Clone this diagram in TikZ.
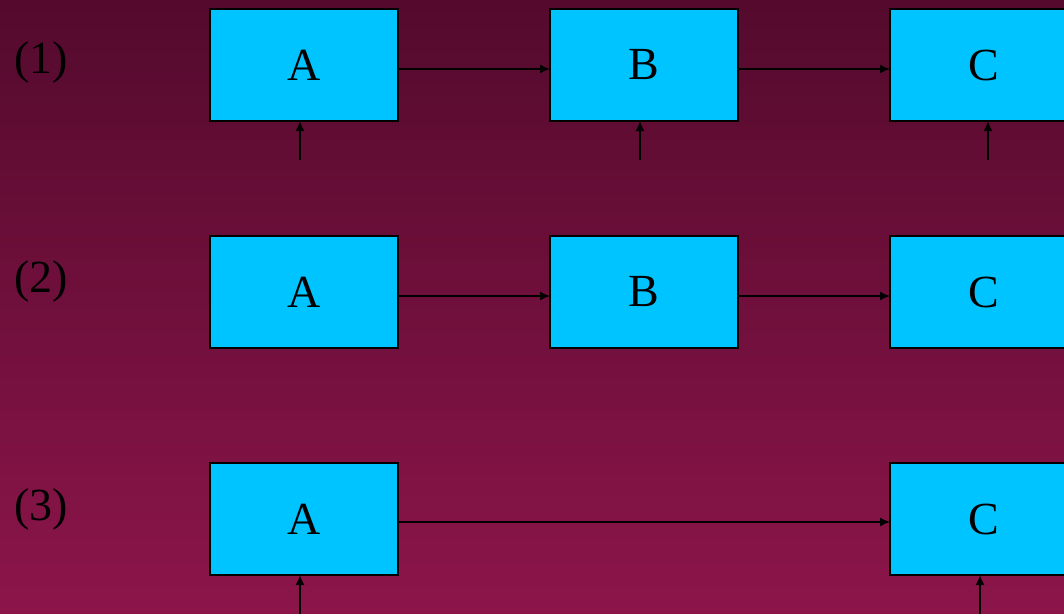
\documentclass[tikz,border=0pt]{standalone}
\usepackage{fontspec}
\setmainfont{Liberation Serif}
\usetikzlibrary{arrows.meta,positioning}

\definecolor{bgtop}{RGB}{84,10,45}
\definecolor{bgbot}{RGB}{140,21,74}
\definecolor{boxfill}{RGB}{0,196,255}

\begin{document}
\begin{tikzpicture}[x=1pt, y=-1pt,
    blk/.style={draw=black, line width=1.6pt, fill=boxfill, minimum width=188pt, minimum height=112pt, inner sep=0pt, outer sep=0pt, font=\fontsize{46}{55}\selectfont},
    tag/.style={font=\fontsize{46}{55}\selectfont, inner sep=0pt},
    arr/.style={-{Latex[length=10pt,width=9pt]}, line width=1.5pt}
  ]
    % background
    \shade[top color=bgtop, bottom color=bgbot] (0,0) rectangle (1064,613);
    \useasboundingbox (0,0) rectangle (1064,613);

    % case (1)
    \node[tag] (t1) at (41,62) {(1)};
    \node[blk] (A1) at (304,65) {A};
    \node[blk, right=152pt of A1] (B1) {B};
    \node[blk, right=152pt of B1] (C1) {C};
    \draw[arr] ([yshift=-4pt]A1.east) -- ([yshift=-4pt]B1.west);
    \draw[arr] ([yshift=-4pt]B1.east) -- ([yshift=-4pt]C1.west);
    \coordinate (inA1) at ([xshift=-4pt,yshift=-39pt]A1.south);
    \coordinate (inB1) at ([xshift=-4pt,yshift=-39pt]B1.south);
    \coordinate (inC1) at ([xshift=4pt,yshift=-39pt]C1.south);
    \draw[arr] (inA1) -- (inA1 |- A1.south);
    \draw[arr] (inB1) -- (inB1 |- B1.south);
    \draw[arr] (inC1) -- (inC1 |- C1.south);

    % case (2)
    \node[tag] (t2) at (41,281) {(2)};
    \node[blk, below=115pt of A1] (A2) {A};
    \node[blk, right=152pt of A2] (B2) {B};
    \node[blk, right=152pt of B2] (C2) {C};
    \draw[arr] ([yshift=-4pt]A2.east) -- ([yshift=-4pt]B2.west);
    \draw[arr] ([yshift=-4pt]B2.east) -- ([yshift=-4pt]C2.west);

    % case (3)
    \node[tag] (t3) at (41,509) {(3)};
    \node[blk, below=115pt of A2] (A3) {A};
    \node[blk, below=115pt of C2] (C3) {C};
    \draw[arr] ([yshift=-3pt]A3.east) -- ([yshift=-3pt]C3.west);
    \coordinate (inA3) at ([xshift=-4pt,yshift=-40pt]A3.south);
    \coordinate (inC3) at ([xshift=-4pt,yshift=-40pt]C3.south);
    \draw[arr] (inA3) -- (inA3 |- A3.south);
    \draw[arr] (inC3) -- (inC3 |- C3.south);
\end{tikzpicture}
\end{document}
